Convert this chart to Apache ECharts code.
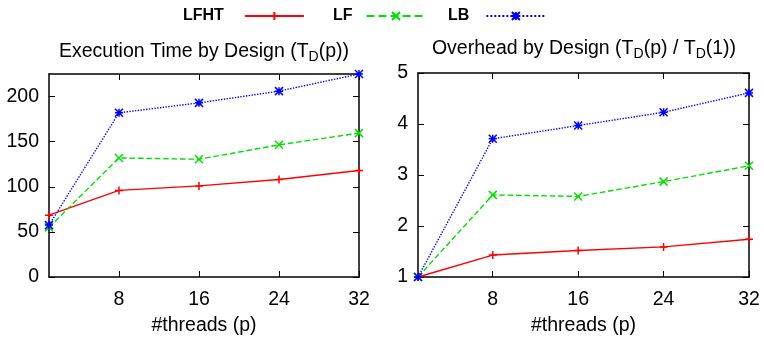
<!DOCTYPE html>
<html>
<head>
<meta charset="utf-8">
<script src="https://cdn.jsdelivr.net/npm/echarts@6/dist/echarts.min.js"></script>
<style>
  html, body { margin: 0; padding: 0; background: #fff; }
  #main { width: 764px; height: 341px; }
</style>
</head>
<body>
<div id="main"></div>
<script>
// thread counts
var threads = [1, 8, 16, 24, 32];
var xTicks = [8, 16, 24, 32];

// execution time T_D(p)
var timeLFHT = [68.5, 96, 101, 108, 118];
var timeLF = [55, 132, 130.5, 146.5, 159.5];
var timeLB = [57.5, 182, 193, 206, 225];
var timeTicks = [0, 50, 100, 150, 200];

// overhead T_D(p) / T_D(1)
var ovLFHT = [1, 1.43, 1.52, 1.59, 1.74];
var ovLF = [1, 2.61, 2.58, 2.87, 3.18];
var ovLB = [1, 3.71, 3.97, 4.23, 4.61];
var ovTicks = [1, 2, 3, 4, 5];

var FONT = 'Liberation Sans';
var FS = 19.5;
var RED = '#ff0000', GREEN = '#00e000', BLUE = '#0000ff';

var symPlus = 'path://M0,5L10,5M5,0L5,10';
var symCross = 'path://M0,0L10,10M10,0L0,10';
var symStar = 'path://M0,0L10,10M10,0L0,10M5,0L5,10M0,5L10,5';

function pairs(ys) {
    return threads.map(function (t, i) { return [t, ys[i]]; });
}

var chart = echarts.init(document.getElementById('main'));

function xAxisFor(grid, top) {
    return {
        type: 'value', gridIndex: grid, min: 1, max: 32,
        position: top ? 'top' : 'bottom',
        name: top ? '' : '#threads (p)',
        nameLocation: 'middle', nameGap: 39,
        nameTextStyle: {fontFamily: FONT, fontSize: FS, color: '#000'},
        axisLine: {show: true, onZero: false, lineStyle: {color: '#000', width: 1.5}},
        axisTick: {show: true, inside: true, length: 6, customValues: xTicks, lineStyle: {color: '#000'}},
        axisLabel: {show: !top, customValues: xTicks, margin: 13, fontFamily: FONT, fontSize: FS, color: '#000'},
        splitLine: {show: false}
    };
}

function yAxisFor(grid, right, min, max, ticks) {
    return {
        type: 'value', gridIndex: grid, min: min, max: max,
        position: right ? 'right' : 'left',
        axisLine: {show: true, onZero: false, lineStyle: {color: '#000', width: 1.5}},
        axisTick: {show: true, inside: true, length: 6, customValues: ticks, lineStyle: {color: '#000'}},
        axisLabel: {show: !right, customValues: ticks, margin: 10, fontFamily: FONT, fontSize: FS, color: '#000'},
        splitLine: {show: false}
    };
}

function line(name, xi, yi, data, color, type, sym) {
    return {
        name: name, type: 'line', xAxisIndex: xi, yAxisIndex: yi,
        data: pairs(data),
        symbol: sym, symbolSize: 8,
        lineStyle: {color: color, width: 1.4, type: type},
        itemStyle: {color: color, borderColor: color, borderWidth: 1.5},
        emphasis: {disabled: true},
        animation: false
    };
}

function legendAt(name, left, pad) {
    return {
        data: [name], left: left, top: 8, padding: 0,
        align: 'right', itemWidth: 59, itemHeight: 10,
        textStyle: {fontFamily: FONT, fontSize: 16, fontWeight: 'bold', color: '#000', padding: [0, pad, 0, 0]}
    };
}

var titleStyle = {
    fontFamily: FONT, fontSize: FS, fontWeight: 'normal', color: '#000',
    rich: {sub: {fontFamily: FONT, fontSize: 14, color: '#000', padding: [10, 0, 0, 0]}}
};

chart.setOption({
    backgroundColor: '#fff',
    title: [
        {text: 'Execution Time by Design (T{sub|D}(p))', left: 204, top: 40, textAlign: 'center', textStyle: titleStyle, padding: 0},
        {text: 'Overhead by Design (T{sub|D}(p) / T{sub|D}(1))', left: 584, top: 37, textAlign: 'center', textStyle: titleStyle, padding: 0}
    ],
    legend: [
        legendAt('LFHT', 183, 16),
        legendAt('LF', 333, 9),
        legendAt('LB', 448, 12)
    ],
    grid: [
        {left: 49, right: 405, top: 74, bottom: 62},
        {left: 418, right: 15, top: 73, bottom: 64}
    ],
    xAxis: [xAxisFor(0, false), xAxisFor(1, false), xAxisFor(0, true), xAxisFor(1, true)],
    yAxis: [
        yAxisFor(0, false, 0, 225, timeTicks),
        yAxisFor(1, false, 1, 5, ovTicks),
        yAxisFor(0, true, 0, 225, timeTicks),
        yAxisFor(1, true, 1, 5, ovTicks)
    ],
    series: [
        line('LFHT', 0, 0, timeLFHT, RED, 'solid', symPlus),
        line('LF', 0, 0, timeLF, GREEN, 'dashed', symCross),
        line('LB', 0, 0, timeLB, BLUE, 'dotted', symStar),
        line('LFHT', 1, 1, ovLFHT, RED, 'solid', symPlus),
        line('LF', 1, 1, ovLF, GREEN, 'dashed', symCross),
        line('LB', 1, 1, ovLB, BLUE, 'dotted', symStar)
    ]
});
</script>
</body>
</html>
